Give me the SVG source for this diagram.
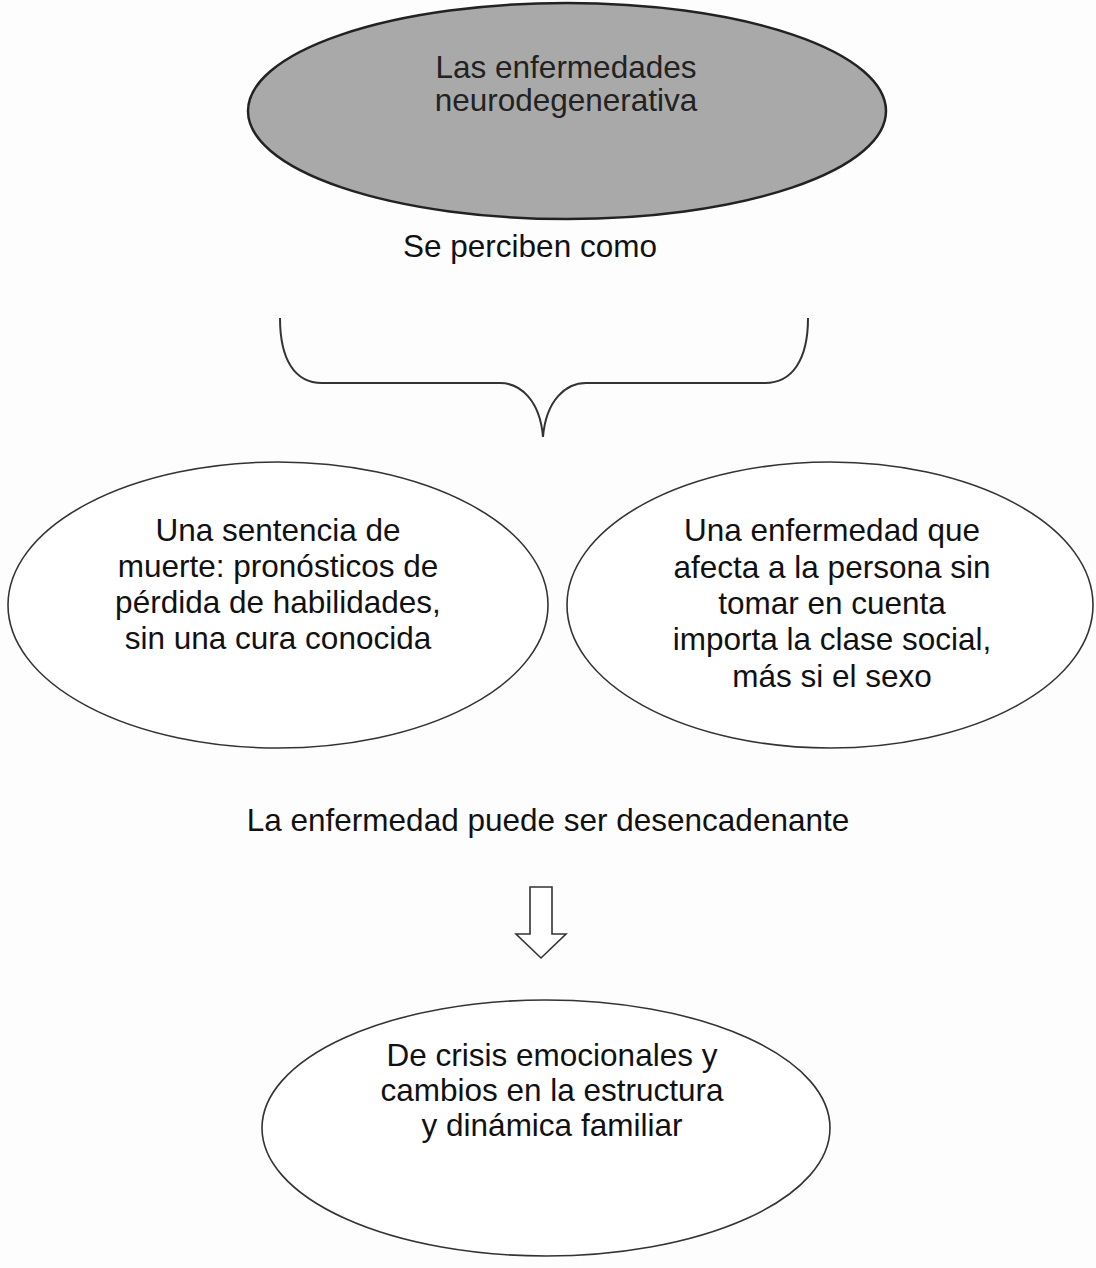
<svg xmlns="http://www.w3.org/2000/svg" width="1096" height="1268" viewBox="0 0 1096 1268">
<style>
text{font-family:"Liberation Sans",Arial,sans-serif;fill:#111;text-anchor:middle}
.t{font-size:31.5px}
.ell{fill:#fff;stroke:#333;stroke-width:1.6}
.line{fill:none;stroke:#333;stroke-width:2}
</style>
<rect width="1096" height="1268" fill="#fdfdfd"/>
<g id="top">
<ellipse cx="567" cy="111" rx="319" ry="108" fill="#a9a9a9" stroke="#222" stroke-width="2.5"/>
<text x="566" y="78" font-size="31.5" style="fill:#222">Las enfermedades</text>
<text x="566" y="111" font-size="31.5" style="fill:#222">neurodegenerativa</text>
</g>
<g id="label1"><text class="t" x="530" y="257">Se perciben como</text></g>
<g id="connectors">
<path class="line" d="M280,318 C280,360 295,383 322,383 L500,383 C520,383 540,400 543,437 C546,400 566,383 586,383 L765,383 C792,383 808,360 808,318"/>
<path d="M530,887 L552,887 L552,934 L566,934 L541,958 L516,934 L530,934 Z" fill="#fff" stroke="#333" stroke-width="1.6"/>
</g>
<g id="left">
<ellipse class="ell" cx="278" cy="605" rx="270" ry="143"/>
<text class="t" x="278" y="541">Una sentencia de</text>
<text class="t" x="278" y="577">muerte: pronósticos de</text>
<text class="t" x="278" y="613">pérdida de habilidades,</text>
<text class="t" x="278" y="649">sin una cura conocida</text>
</g>
<g id="right">
<ellipse class="ell" cx="830" cy="605" rx="263" ry="143"/>
<text class="t" x="832" y="541">Una enfermedad que</text>
<text class="t" x="832" y="578">afecta a la persona sin</text>
<text class="t" x="832" y="614">tomar en cuenta</text>
<text class="t" x="832" y="650">importa la clase social,</text>
<text class="t" x="832" y="687">más si el sexo</text>
</g>
<g id="label2"><text class="t" x="548" y="831">La enfermedad puede ser desencadenante</text></g>
<g id="bottom">
<ellipse class="ell" cx="546" cy="1128" rx="284" ry="128"/>
<text class="t" x="552" y="1066">De crisis emocionales y</text>
<text class="t" x="552" y="1101">cambios en la estructura</text>
<text class="t" x="552" y="1136">y dinámica familiar</text>
</g>
</svg>
